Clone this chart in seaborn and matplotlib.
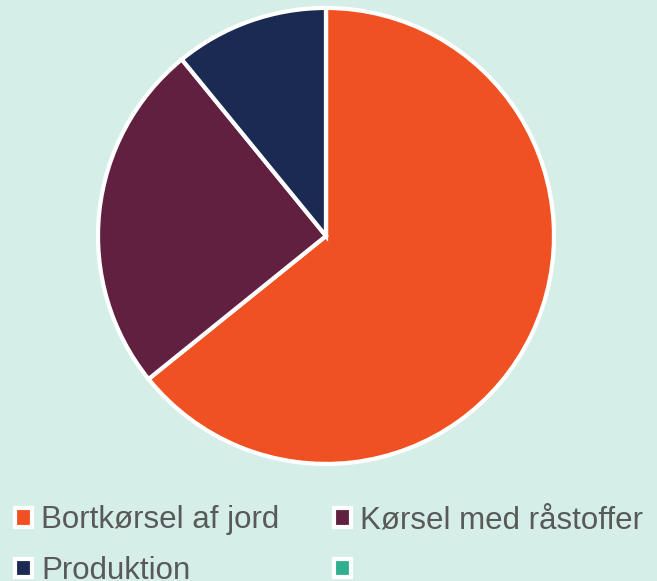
import matplotlib
matplotlib.use('Agg')
import matplotlib.pyplot as plt
import seaborn as sns

# shares of the total (start at 12 o'clock, clockwise)
categories = ['Bortkørsel af jord', 'Kørsel med råstoffer', 'Produktion', '']
shares = [64.2, 24.9, 10.9, 0.0]
colors = ['#f05123', '#622041', '#1b2a52', '#2eb08f']
bg = '#d5efe8'

sns.set_theme(style='white')
plt.rcParams['font.family'] = ['Liberation Sans', 'DejaVu Sans']

fig = plt.figure(figsize=(6.57, 5.81), dpi=100, facecolor=bg)
ax = fig.add_axes([0.1492, 0.2014, 0.694, 0.785])
ax.set_facecolor(bg)

wedges, _ = ax.pie(shares, colors=colors, startangle=90, counterclock=False,
                   radius=1, wedgeprops={'edgecolor': 'white', 'linewidth': 3})
ax.set_xlim(-1, 1)
ax.set_ylim(-1, 1)
ax.set_aspect('equal')
ax.axis('off')

# legend goes row by row in the reference, matplotlib fills columns -> reorder
order = [0, 2, 1, 3]
handles = [wedges[i] for i in order]
labels = [categories[i] if categories[i] else ' ' for i in order]
leg = fig.legend(handles, labels, ncol=2,
                 loc='upper left', bbox_to_anchor=(0.0228, 0.13),
                 frameon=False, fontsize=22.5, labelcolor='#595959',
                 handlelength=0.54, handleheight=0.54, handletextpad=0.3,
                 columnspacing=1.75, labelspacing=0.66, borderpad=0,
                 borderaxespad=0)

fig.savefig('out.png', dpi=100, facecolor=bg)
